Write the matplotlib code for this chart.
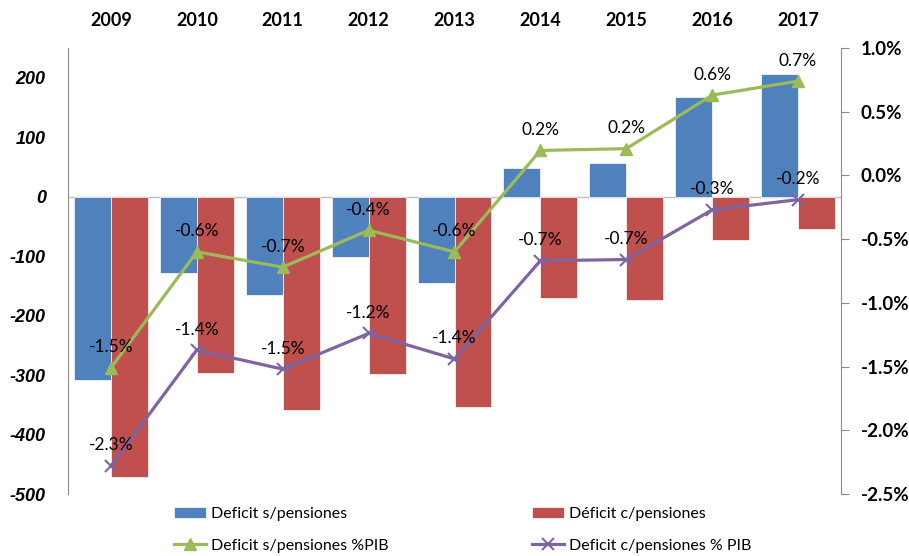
import matplotlib.pyplot as plt
import matplotlib.ticker as mticker
import matplotlib
matplotlib.rcParams['font.family'] = ['Lato', 'DejaVu Sans']
matplotlib.rcParams['font.size'] = 12
matplotlib.rcParams['axes.unicode_minus'] = False

years = ['2009', '2010', '2011', '2012', '2013', '2014', '2015', '2016', '2017']
deficit_s = [-308, -129, -166, -102, -145, 49, 56, 168, 207]
deficit_c = [-472, -296, -358, -298, -353, -170, -173, -73, -55]
pib_s = [-0.0151, -0.0060, -0.0072, -0.0043, -0.0060, 0.00196, 0.0021, 0.0063, 0.0074]
pib_c = [-0.0228, -0.0137, -0.0152, -0.0124, -0.0144, -0.0067, -0.0066, -0.0027, -0.0019]

BLUE = '#4F81BD'
RED = '#C0504D'
GREEN = '#9BBB59'
PURPLE = '#8064A2'
GRAY = '#8C8C8C'


def main():
    fig = plt.figure(figsize=(9.09, 5.56), dpi=100)
    ax = fig.add_axes([0.0748, 0.1115, 0.8504, 0.8022])
    ax2 = ax.twinx()

    x = list(range(len(years)))
    w = 0.43
    b1 = ax.bar([i - w for i in x], deficit_s, width=w, align='edge', color=BLUE,
                edgecolor='white', linewidth=0.5)
    b2 = ax.bar(x, deficit_c, width=w, align='edge', color=RED,
                edgecolor='white', linewidth=0.5)
    ax.axhline(0, color='#BFBFBF', lw=1, zorder=0)

    l1, = ax2.plot(x, pib_s, color=GREEN, lw=2.3, marker='^', markersize=8)
    l2, = ax2.plot(x, pib_c, color=PURPLE, lw=2.3, marker='x', markersize=8,
                   markeredgewidth=1.5)

    for i in x:
        ax2.annotate('{:.1%}'.format(pib_s[i]), (i, pib_s[i]), xytext=(0, 9),
                     textcoords='offset points', ha='center', va='bottom', fontsize=12.5)
        ax2.annotate('{:.1%}'.format(pib_c[i]), (i, pib_c[i]), xytext=(0, 9),
                     textcoords='offset points', ha='center', va='bottom', fontsize=12.5)

    ax.set_xlim(-0.5, len(years) - 0.5)
    ax.set_ylim(-500, 250)
    ax2.set_ylim(-0.025, 0.01)

    ax.xaxis.tick_top()
    ax.set_xticks(x)
    ax.set_xticklabels(years, fontweight='bold', fontsize=13)
    ax.tick_params(axis='x', length=0, pad=14)

    ax.set_yticks(range(-500, 201, 100))
    for lab in ax.get_yticklabels():
        lab.set_family(['Liberation Sans', 'DejaVu Sans'])
        lab.set_fontweight('bold')
        lab.set_fontstyle('italic')
        lab.set_fontsize(13)
    ax.tick_params(axis='y', length=0, pad=16)

    ax2.set_yticks([-0.025, -0.02, -0.015, -0.01, -0.005, 0.0, 0.005, 0.01])
    ax2.yaxis.set_major_formatter(mticker.FuncFormatter(lambda v, p: '{:.1%}'.format(v)))
    for lab in ax2.get_yticklabels():
        lab.set_fontweight('bold')
        lab.set_fontsize(13.5)
    ax2.tick_params(axis='y', length=6, color=GRAY, pad=8)

    for a in (ax, ax2):
        a.spines['top'].set_visible(False)
        a.spines['bottom'].set_visible(False)
    ax.spines['right'].set_visible(False)
    ax2.spines['left'].set_visible(False)
    ax.spines['left'].set_color(GRAY)
    ax2.spines['right'].set_color(GRAY)

    # legend fills column by column: bars on the first row, lines on the second
    fig.legend([b1, l1, b2, l2],
               ['Deficit s/pensiones', 'Deficit s/pensiones %PIB',
                'Déficit c/pensiones', 'Deficit c/pensiones % PIB'],
               ncol=2, loc='center', bbox_to_anchor=(0.509, 0.047), frameon=False,
               fontsize=11.5, columnspacing=9, labelspacing=1.1, handlelength=2,
               handletextpad=0.3)

    fig.savefig('out.png', dpi=100)


if __name__ == '__main__':
    main()
